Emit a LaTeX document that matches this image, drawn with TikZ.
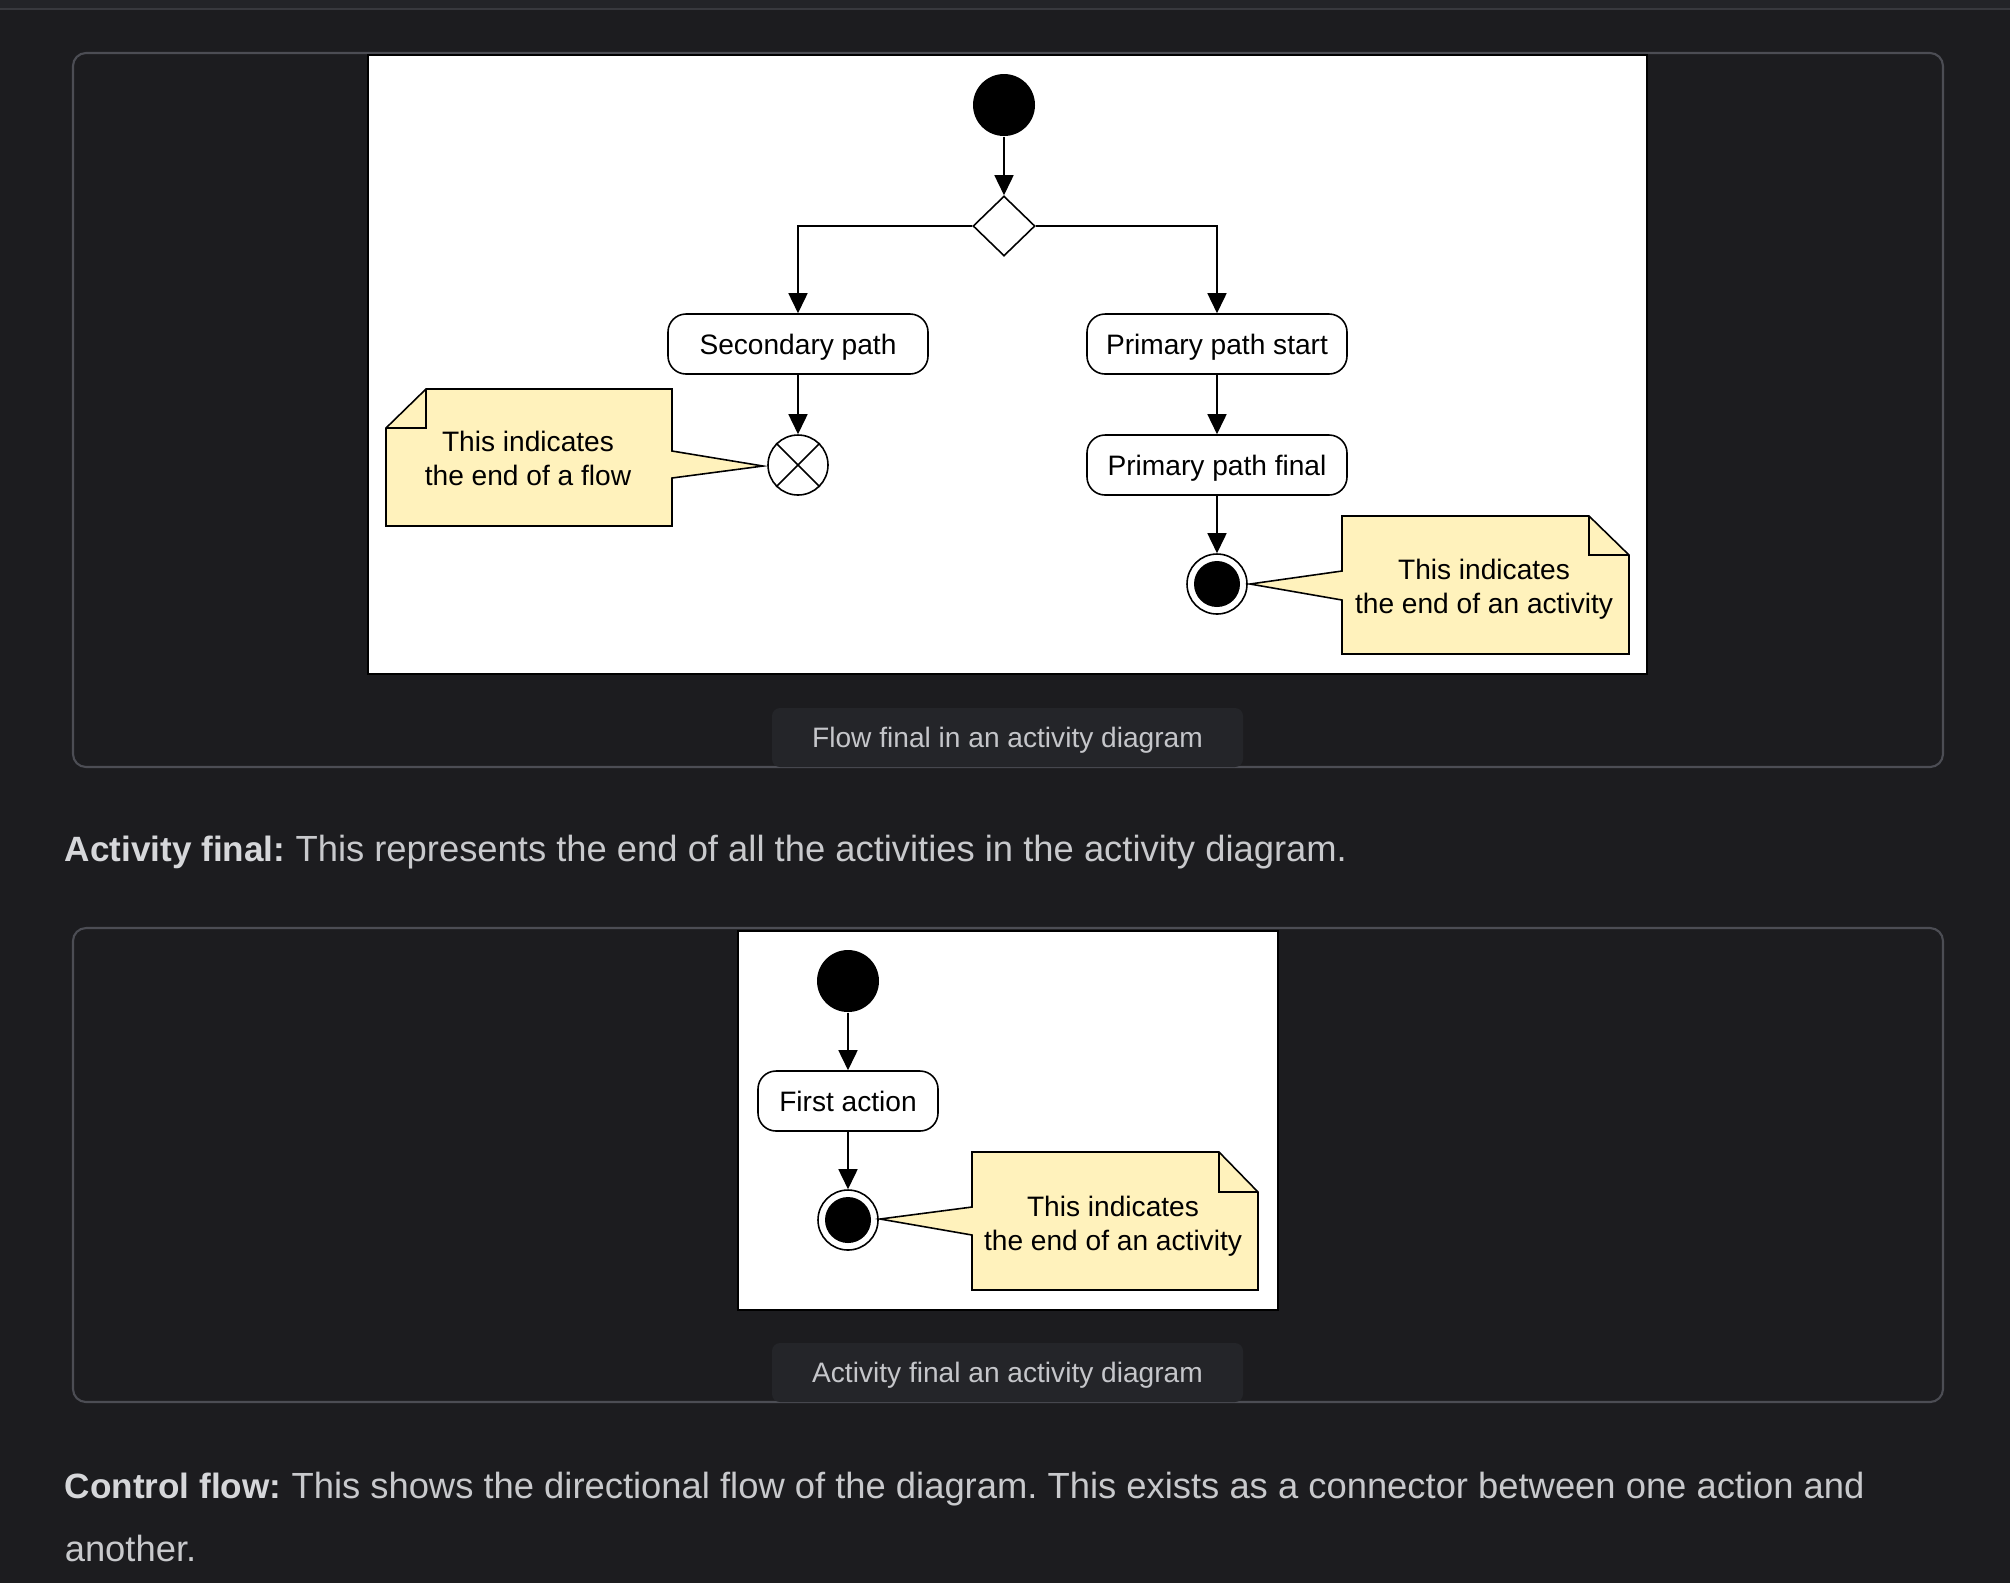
\documentclass[tikz,border=0pt]{standalone}
\usepackage{fontspec}
\setmainfont{Liberation Sans}
\usetikzlibrary{arrows.meta,shapes.geometric}
\definecolor{pagebg}{HTML}{1C1C1F}
\definecolor{topbar}{HTML}{232428}
\definecolor{topline}{HTML}{38393E}
\definecolor{frameline}{HTML}{4C4D54}
\definecolor{pillbg}{HTML}{242529}
\definecolor{captext}{HTML}{C5C6CA}
\definecolor{bodytext}{HTML}{C8C9CC}
\definecolor{boldtext}{HTML}{D6D7DA}
\definecolor{notefill}{HTML}{FFF2BC}
\frenchspacing

\begin{document}
\begin{tikzpicture}[x=0.1mm,y=-0.1mm,line width=0.45pt,
  flow/.style={-{Triangle[length=2mm,width=1.9mm]}},
  action/.style={draw,fill=white,rounded corners=1.8mm,minimum width=26mm,minimum height=6mm,
    text height=5.7pt,text depth=0pt,font=\fontsize{8}{9.7}\selectfont},
  startnode/.style={circle,fill=black,minimum size=6.2mm,inner sep=0pt},
  decision/.style={diamond,draw,fill=white,minimum width=6.2mm,minimum height=6mm,inner sep=0pt},
  endnode/.style={circle,draw,fill=white,minimum size=6mm,inner sep=0pt},
  notetext/.style={align=center,font=\fontsize{8}{9.7}\selectfont},
  note/.style={draw,fill=notefill},
  caption/.style={fill=pillbg,rounded corners=0.8mm,minimum width=47.1mm,minimum height=5.9mm,
    text height=5.7pt,text depth=0pt,text=captext,font=\fontsize{8}{9.7}\selectfont},
  bodytxt/.style={anchor=base west,inner sep=0pt,text=bodytext,font=\fontsize{10.35}{12}\selectfont},
  panel/.style={draw=frameline,line width=0.6pt,rounded corners=1.3mm}]
% page
\useasboundingbox (0,0) rectangle (2010,1582);
\fill[pagebg] (-10,-10) rectangle (2020,1592);
\fill[topbar] (-10,-10) rectangle (2020,8);
\draw[topline,line width=0.6pt] (-10,9) -- (2020,9);

% first figure: flow final
\draw[panel] (73,53) rectangle (1943,767);
\draw[fill=white] (368,55) rectangle (1647,674);
\node (start) at (1004,105) [startnode] {};
\node (dec) at (1004,226) [decision] {};
\node (sec) at (798,344) [action] {Secondary path};
\node (pstart) at (1217,344) [action] {Primary path start};
\node (pfinal) at (1217,465) [action] {Primary path final};
\node (ff) at (798,465) [endnode] {};
\draw (ff.north west) -- (ff.south east);
\draw (ff.north east) -- (ff.south west);
\node (af) at (1217,584) [endnode] {};
\fill (af) circle (2.3mm);
\draw[flow] (start) -- (dec);
\draw[flow] (dec.west) -| (sec);
\draw[flow] (dec.east) -| (pstart);
\draw[flow] (sec) -- (ff);
\draw[flow] (pstart) -- (pfinal);
\draw[flow] (pfinal) -- (af);
% notes
\draw[note] (426,389) -- (672,389) -- (672,451) -- (763,466) -- (672,478) -- (672,526)
  -- (386,526) -- (386,428) -- cycle;
\draw (426,389) -- (426,428) -- (386,428);
\node (noteflow) at (528,458) [notetext] {This indicates\\the end of a flow};
\draw[note] (1342,516) -- (1589,516) -- (1629,555) -- (1629,654) -- (1342,654) -- (1342,600)
  -- (1250,584) -- (1342,571) -- cycle;
\draw (1589,516) -- (1589,555) -- (1629,555);
\node (noteact) at (1484,589) [notetext] {This indicates\\the end of an activity};
\node (capflow) at (1007.5,737.5) [caption] {Flow final in an activity diagram};

\node (txtfinal) at (64,861) [bodytxt] {{\color{boldtext}\fontsize{10}{12}\selectfont\bfseries Activity final:} This represents the end of all the activities in the activity diagram.};

% second figure: activity final
\draw[panel] (73,928) rectangle (1943,1402);
\draw[fill=white] (738,931) rectangle (1278,1310);
\node (start2) at (848,981) [startnode] {};
\node (first) at (848,1101) [action,minimum width=18mm] {First action};
\node (af2) at (848,1220) [endnode] {};
\fill (af2) circle (2.3mm);
\draw[flow] (start2) -- (first);
\draw[flow] (first) -- (af2);
\draw[note] (972,1152) -- (1219,1152) -- (1258,1192) -- (1258,1290) -- (972,1290) -- (972,1235)
  -- (880,1219) -- (972,1207) -- cycle;
\draw (1219,1152) -- (1219,1192) -- (1258,1192);
\node (noteact2) at (1113,1226) [notetext] {This indicates\\the end of an activity};
\node (capact) at (1007.5,1372.5) [caption] {Activity final an activity diagram};

\node (txtctrl) at (64,1498) [bodytxt] {{\color{boldtext}\fontsize{10}{12}\selectfont\bfseries Control flow:} This shows the directional flow of the diagram. This exists as a connector between one action and};
\node (txtctrl2) at (64,1561) [bodytxt] {another.};
\end{tikzpicture}
\end{document}
